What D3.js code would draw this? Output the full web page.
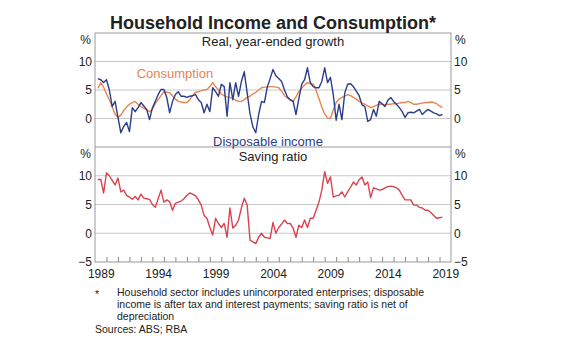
<!DOCTYPE html>
<html lang="en">
<head>
  <meta charset="UTF-8">
  <title>Household Income and Consumption</title>
  <script src="https://d3js.org/d3.v7.min.js"></script>
  <style>
    body { margin: 0; background: #fff; }
    text { font-family: "Liberation Sans", Arial, sans-serif; fill: #222; }
  </style>
</head>
<body>
<script>
  // quarterly data, first point 1989 Q2 (decimal 1989.25), last 2019 Q2
  const startYear = 1989.25;

  // real, year-ended growth, per cent
  const consumption = [
    5.3, 6.3, 5.5,
    4.3, 3.3, 2.0, 0.8,
    0.2, 0.6, 1.4, 2.0,
    2.5, 2.8, 3.0, 2.5,
    2.1, 1.8, 1.5, 1.2,
    1.6, 2.6, 3.3, 4.0,
    4.7, 4.6, 4.5, 4.0,
    3.4, 3.0, 2.9, 2.8,
    2.8, 3.3, 4.0, 4.6,
    4.7, 4.9, 5.0, 5.1,
    5.6, 6.3, 5.6, 5.0,
    4.3, 4.0, 3.8, 3.7,
    3.5, 3.2, 3.0, 3.0,
    3.3, 3.7, 3.9, 4.3,
    4.6, 5.0, 5.4, 5.5,
    5.5, 5.6, 5.6, 5.5,
    5.4, 4.8, 4.0, 3.6,
    3.2, 3.0, 3.8, 4.7,
    5.3, 5.9, 6.3, 6.1,
    6.0, 4.9, 3.5, 2.0,
    0.8, 0.1, 0.0, 1.5,
    2.8, 3.4, 3.7, 3.9,
    4.2, 4.0, 3.7, 3.4,
    3.0, 2.7, 2.5, 2.2,
    1.9, 2.1, 2.3, 2.5,
    2.5, 2.4, 2.5, 2.5,
    2.6, 2.6, 2.7, 2.8,
    2.8, 3.0, 2.8, 2.5,
    2.5, 2.6, 2.7, 2.8,
    2.8, 2.9, 2.8, 2.6,
    2.2, 1.9
  ];

  const disposableIncome = [
    7.0, 6.8, 6.3,
    6.8, 5.0, 2.1, 3.0,
    0.2, -2.5, -1.4, -0.7,
    -2.3, 1.9, 1.2, 1.9,
    2.8, 2.2, 1.6, -0.2,
    1.9, 3.0, 4.2, 5.1,
    5.1, 3.7, 1.0, 3.0,
    4.2, 4.7, 3.9, 3.9,
    3.7, 3.9, 4.0, 4.2,
    3.3, 2.8, 1.0, 2.5,
    1.2, 5.4, 4.7, 3.9,
    6.0, 5.6, 0.4, 6.3,
    3.3, 6.3, 3.9, 6.5,
    8.2, 4.5, 0.8, -1.5,
    -2.5, 0.7, 3.0, 2.8,
    5.5, 7.0, 8.6, 7.5,
    7.0, 6.5, 5.0, 3.8,
    3.3, 3.0, 0.7, 3.5,
    6.0, 6.8, 8.9, 6.3,
    5.6, 5.4, 5.4, 6.5,
    8.9, 6.3, 7.2, 4.2,
    -0.3, 2.5, -0.2, 4.5,
    6.0, 6.1, 5.6, 4.8,
    4.0, 2.4, 2.1, -0.5,
    -0.2, 1.6, 0.4, 3.0,
    2.6, 2.1, 3.2, 3.7,
    3.0, 2.5, 1.9, 1.2,
    0.2, 1.0, 1.1, 1.0,
    1.3, 1.6, 0.7, 1.2,
    1.6, 1.3, 1.0, 0.8,
    0.5, 0.7
  ];

  // household saving ratio, per cent
  const savingRatio = [
    9.3, 9.4, 7.0,
    10.5, 10.0, 9.2, 8.4,
    9.6, 7.2, 7.5, 6.6,
    6.3, 5.9, 6.4, 5.8,
    6.8, 6.1, 6.0, 5.9,
    5.0, 4.5, 6.0, 7.5,
    5.4, 5.8, 5.5, 4.0,
    5.2, 5.4, 5.6, 6.0,
    6.6, 7.0, 6.8, 6.5,
    5.8, 4.9, 3.1, 2.6,
    1.0, -0.3, 2.6, 1.7,
    1.0, 1.7, -0.7, 4.4,
    0.9, 1.4, 2.3, 4.4,
    6.1, 4.9, -1.2, -1.5,
    -1.8, -0.7, 0.0, -0.7,
    -0.8, -0.9, 1.9, 0.0,
    1.0, 1.6, 2.3, 1.7,
    1.7, 0.9, -0.7, 1.4,
    1.0, 2.3, 1.0, 2.6,
    2.6, 4.0, 5.4, 7.5,
    10.7, 8.7, 9.8, 6.3,
    6.5, 6.6, 7.2, 6.3,
    7.2, 8.0, 8.9, 8.4,
    9.3, 9.8, 8.4, 8.9,
    6.2, 7.9, 7.7, 7.5,
    7.6, 7.9, 8.1, 8.2,
    8.1, 7.9, 7.5, 6.6,
    5.8, 5.8, 5.8, 4.9,
    4.9, 4.5, 4.4, 4.0,
    4.0, 3.6, 3.1, 2.6,
    2.7, 2.8
  ];

  const yearLabels = [1989, 1994, 1999, 2004, 2009, 2014, 2019];
  const yTicksTop = [0, 5, 10];
  const yTicksBottom = [-5, 0, 5, 10];

  // Set Dimensions
  const width = 580;
  const height = 352;
  const left = 95, right = 451;
  const topY = 33, midY = 147, bottomY = 262;

  const svg = d3.select("body")
    .append("svg")
    .attr("width", width)
    .attr("height", height);

  const x = d3.scaleLinear()
    .domain([1989, 2020])
    .range([left, right]);

  const yTop = d3.scaleLinear().domain([-5, 15]).range([midY, topY]);
  const yBot = d3.scaleLinear().domain([-5, 15]).range([bottomY, midY]);

  const toPoints = vals => vals.map((v, i) => ({t: startYear + i * 0.25, v: v}));

  // gridlines
  function grid(y, ticks) {
    svg.append("g")
      .selectAll("line")
      .data(ticks.filter(d => d > -5))
      .join("line")
      .attr("x1", left)
      .attr("x2", right)
      .attr("y1", d => y(d))
      .attr("y2", d => y(d))
      .attr("stroke", "#c8c8c8")
      .attr("stroke-width", 1);
  }
  grid(yTop, yTicksTop);
  grid(yBot, yTicksBottom);

  // y axes, both sides
  function yAxes(y, ticks) {
    svg.append("g")
      .attr("transform", "translate(" + (left - 3) + ",0)")
      .call(d3.axisLeft(y).tickValues(ticks).tickSize(0).tickPadding(0))
      .call(g => g.select(".domain").remove())
      .selectAll("text")
      .attr("font-size", 12)
      .attr("fill", "#222");
    svg.append("g")
      .attr("transform", "translate(" + (right + 3) + ",0)")
      .call(d3.axisRight(y).tickValues(ticks).tickSize(0).tickPadding(0))
      .call(g => g.select(".domain").remove())
      .selectAll("text")
      .attr("font-size", 12)
      .attr("fill", "#222");
  }
  yAxes(yTop, yTicksTop);
  yAxes(yBot, yTicksBottom);

  // % unit labels
  [topY + 7, midY + 7].forEach(yy => {
    svg.append("text").attr("x", left - 4).attr("y", yy + 4)
      .attr("text-anchor", "end").attr("font-size", 12).text("%");
    svg.append("text").attr("x", right + 4).attr("y", yy + 4)
      .attr("font-size", 12).text("%");
  });

  // x axis: year ticks at year boundaries, labels at mid-year
  svg.append("g")
    .attr("transform", "translate(0," + bottomY + ")")
    .call(d3.axisBottom(x).tickValues(d3.range(1990, 2020)).tickSize(-5).tickFormat(""))
    .call(g => g.select(".domain").remove())
    .selectAll("line")
    .attr("stroke", "#888");

  svg.append("g")
    .attr("transform", "translate(0," + bottomY + ")")
    .call(d3.axisBottom(x).tickValues(yearLabels.map(d => d + 0.5)).tickSize(0).tickPadding(7)
      .tickFormat(d => Math.floor(d)))
    .call(g => g.select(".domain").remove())
    .selectAll("text")
    .attr("font-size", 12)
    .attr("fill", "#222");

  // lines
  const lineTop = d3.line().x(d => x(d.t)).y(d => yTop(d.v));
  const lineBot = d3.line().x(d => x(d.t)).y(d => yBot(d.v));

  svg.append("path")
    .datum(toPoints(consumption))
    .attr("fill", "none")
    .attr("stroke", "#e8844f")
    .attr("stroke-width", 1.4)
    .attr("stroke-linejoin", "round")
    .attr("d", lineTop);

  svg.append("path")
    .datum(toPoints(disposableIncome))
    .attr("fill", "none")
    .attr("stroke", "#2b3e8c")
    .attr("stroke-width", 1.4)
    .attr("stroke-linejoin", "round")
    .attr("d", lineTop);

  svg.append("path")
    .datum(toPoints(savingRatio))
    .attr("fill", "none")
    .attr("stroke", "#d9434f")
    .attr("stroke-width", 1.4)
    .attr("stroke-linejoin", "round")
    .attr("d", lineBot);

  // panel borders
  svg.append("rect")
    .attr("x", left).attr("y", topY)
    .attr("width", right - left).attr("height", bottomY - topY)
    .attr("fill", "none").attr("stroke", "#999");
  svg.append("line")
    .attr("x1", left).attr("x2", right)
    .attr("y1", midY).attr("y2", midY)
    .attr("stroke", "#999");

  // titles
  svg.append("text")
    .attr("x", 273).attr("y", 29)
    .attr("text-anchor", "middle")
    .attr("font-size", 18).attr("font-weight", "bold")
    .text("Household Income and Consumption*");
  svg.append("text")
    .attr("x", 273).attr("y", 46)
    .attr("text-anchor", "middle").attr("font-size", 13)
    .text("Real, year-ended growth");
  svg.append("text")
    .attr("x", 273).attr("y", 161)
    .attr("text-anchor", "middle").attr("font-size", 13)
    .text("Saving ratio");

  // series labels
  svg.append("text")
    .attr("x", 175).attr("y", 78)
    .attr("text-anchor", "middle").attr("font-size", 13)
    .style("fill", "#e8844f")
    .text("Consumption");
  svg.append("text")
    .attr("x", 268).attr("y", 146)
    .attr("text-anchor", "middle").attr("font-size", 13)
    .style("fill", "#2b3e8c")
    .text("Disposable income");

  // footnotes
  const notes = [
    "Household sector includes unincorporated enterprises; disposable",
    "income is after tax and interest payments; saving ratio is net of",
    "depreciation"
  ];
  svg.append("text").attr("x", 95).attr("y", 298).attr("font-size", 10.5).text("*");
  svg.append("g").selectAll("text")
    .data(notes)
    .join("text")
    .attr("x", 117)
    .attr("y", (d, i) => 296 + i * 12)
    .attr("font-size", 10.5)
    .text(d => d);
  svg.append("text")
    .attr("x", 95).attr("y", 333)
    .attr("font-size", 10.5)
    .text("Sources: ABS; RBA");
</script>
</body>
</html>
